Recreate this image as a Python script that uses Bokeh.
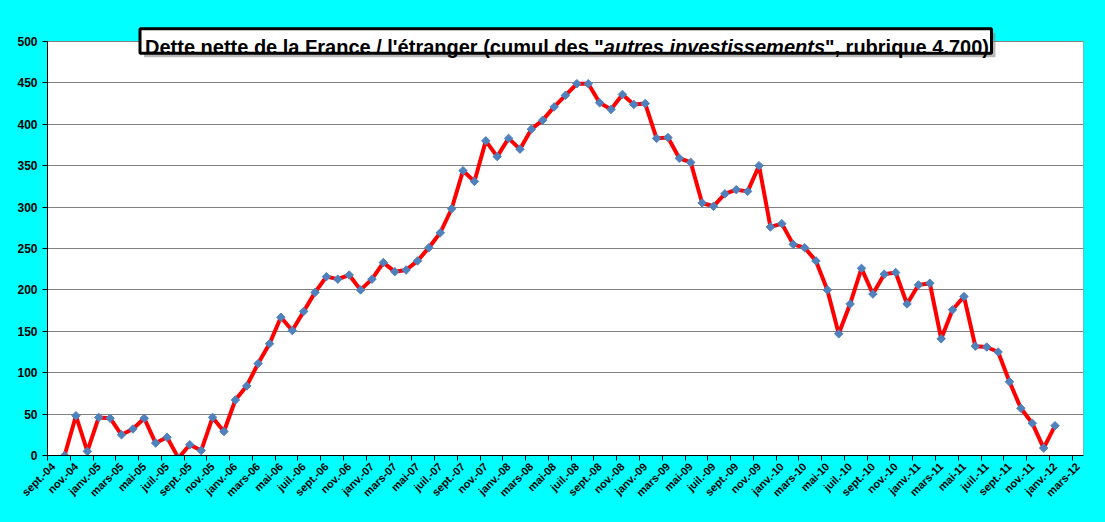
import math
from bokeh.plotting import figure
from bokeh.models import (FixedTicker, Range1d, Label, BoxAnnotation, ColumnDataSource)
from bokeh.embed import file_html
from bokeh.resources import INLINE

# ---- data -------------------------------------------------------------
# monthly values, from oct.-04 (category 1) to janv.-12 (category 88)
values = [0, 48, 5, 46, 45, 25, 32, 45, 15, 22, -3, 13, 6, 46, 29, 67, 84, 111,
          135, 167, 151, 174, 197, 216, 213, 218, 200, 213, 233, 222, 224, 235,
          251, 269, 298, 344, 331, 380, 361, 383, 370, 394, 405, 421, 435, 449,
          449, 426, 418, 436, 424, 425, 383, 384, 359, 354, 305, 301, 316, 321,
          319, 350, 276, 280, 255, 251, 235, 200, 147, 183, 226, 195, 219, 221,
          183, 206, 208, 141, 176, 192, 132, 131, 125, 89, 57, 39, 9, 36]
first_category = 1          # oct.-04 ; category 0 is sept.-04
n_categories = 91           # sept.-04 .. mars-12

tick_labels = ["sept.-04", "nov.-04",
               "janv.-05", "mars-05", "mai-05", "juil.-05", "sept.-05", "nov.-05",
               "janv.-06", "mars-06", "mai-06", "juil.-06", "sept.-06", "nov.-06",
               "janv.-07", "mars-07", "mai-07", "juil.-07", "sept.-07", "nov.-07",
               "janv.-08", "mars-08", "mai-08", "juil.-08", "sept.-08", "nov.-08",
               "janv.-09", "mars-09", "mai-09", "juil.-09", "sept.-09", "nov.-09",
               "janv.-10", "mars-10", "mai-10", "juil.-10", "sept.-10", "nov.-10",
               "janv.-11", "mars-11", "mai-11", "juil.-11", "sept.-11", "nov.-11",
               "janv.-12", "mars-12"]
y_ticks = list(range(0, 501, 50))
y_max = 500

title_parts = ['Dette nette de la France / l\'étranger (cumul des "',
               'autres investissements',
               '", rubrique 4.700)']

# ---- figure -----------------------------------------------------------
W, H = 1105, 522
FL, FR, FT, FB = 47, 22, 5, 67          # frame borders (frame extended upward for the title)
plot_top_px = 41                        # where the value 500 sits on the page
frame_bottom_px = H - FB
y_end = y_max * (frame_bottom_px - FT) / (frame_bottom_px - plot_top_px)

BG = "#00FFFF"
p = figure(width=W, height=H, output_backend="svg", toolbar_location=None,
           x_range=Range1d(0, n_categories), y_range=Range1d(0, y_end),
           min_border_left=FL, min_border_right=FR, min_border_top=FT,
           min_border_bottom=FB)
p.background_fill_color = BG
p.border_fill_color = BG
p.outline_line_color = None
p.styles = {"background-color": BG}

FONT = "Liberation Sans"

# white plot area, drawn below the grid lines
p.quad(left=0, right=n_categories, bottom=0, top=y_max,
       fill_color="white", line_color=None, level="image")

# y axis
p.yaxis.ticker = FixedTicker(ticks=y_ticks)
p.yaxis.bounds = (0, y_max)
p.yaxis.axis_line_color = "black"
p.yaxis.major_tick_line_color = "black"
p.yaxis.major_tick_out = 5
p.yaxis.major_tick_in = 0
p.yaxis.minor_tick_line_color = None
p.yaxis.major_label_text_font = FONT
p.yaxis.major_label_text_font_style = "bold"
p.yaxis.major_label_text_font_size = "12px"
p.yaxis.major_label_text_color = "black"
p.yaxis.major_label_standoff = 5

# x axis: labels at centre of every 2nd category, tick marks at boundaries
label_pos = [i + 0.5 for i in range(0, n_categories, 2)]
boundary_pos = [float(i) for i in range(0, n_categories, 2)]
p.xaxis.ticker = FixedTicker(ticks=label_pos, minor_ticks=boundary_pos)
p.xaxis.major_label_overrides = {pos: lab for pos, lab in zip(label_pos, tick_labels)}
p.xaxis.major_label_orientation = math.pi / 4
p.xaxis.axis_line_color = "black"
p.xaxis.major_tick_line_color = None
p.xaxis.major_tick_out = 0
p.xaxis.major_tick_in = 0
p.xaxis.minor_tick_line_color = "black"
p.xaxis.minor_tick_out = 5
p.xaxis.minor_tick_in = 0
p.xaxis.major_label_text_font = FONT
p.xaxis.major_label_text_font_style = "bold"
p.xaxis.major_label_text_font_size = "11px"
p.xaxis.major_label_text_color = "black"
p.xaxis.major_label_standoff = 4

p.xgrid.grid_line_color = None
p.ygrid.ticker = FixedTicker(ticks=y_ticks)
p.ygrid.grid_line_color = "#808080"
p.ygrid.grid_line_width = 1

# plot-area border (top and right)
p.segment(x0=[0, n_categories], y0=[y_max, 0], x1=[n_categories, n_categories],
          y1=[y_max, y_max], line_color="#808080", line_width=1)

# ---- series -----------------------------------------------------------
xs = [first_category + k + 0.5 for k in range(len(values))]
src = ColumnDataSource(dict(x=xs, y=values))
p.line("x", "y", source=src, line_color="#FF0000", line_width=4)
p.scatter("x", "y", source=src, marker="square", angle=math.pi / 4, size=6,
          fill_color="#4F81BD", line_color="#4F81BD")

# ---- title box (screen units relative to frame left / bottom) ---------
shadow = BoxAnnotation(left=96.5, right=948, top=422.8, bottom=398.2,
                       left_units="screen", right_units="screen",
                       top_units="screen", bottom_units="screen",
                       fill_color="#808080", fill_alpha=0.55, line_color=None)
box = BoxAnnotation(left=92.5, right=944, top=426.8, bottom=402.2,
                    left_units="screen", right_units="screen",
                    top_units="screen", bottom_units="screen",
                    fill_color="white", fill_alpha=1.0,
                    line_color="black", line_width=3, line_alpha=1.0)
p.add_layout(shadow)
p.add_layout(box)

tx = [97.5, 556.3, 777.5]
styles = ["bold", "bold italic", "bold"]
for t, x, st in zip(title_parts, tx, styles):
    p.add_layout(Label(x=x, y=408.3, x_units="screen", y_units="screen",
                       text=t, text_font=FONT, text_font_style=st,
                       text_font_size="20px", text_color="black",
                       text_align="left", text_baseline="alphabetic"))

open("out.html", "w").write(file_html(p, INLINE))
